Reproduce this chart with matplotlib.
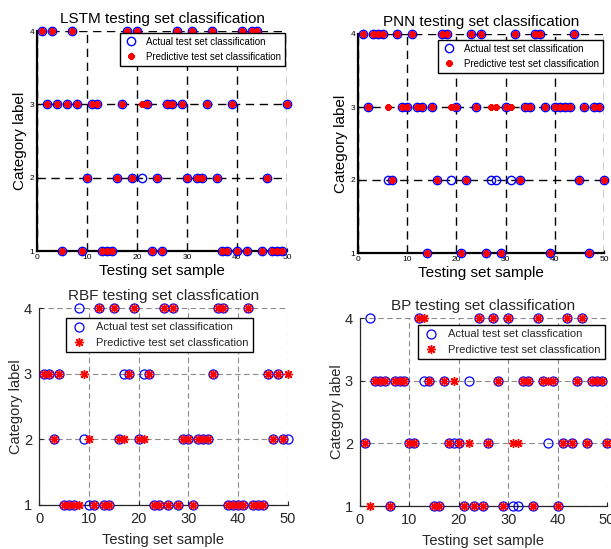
import matplotlib as mpl
mpl.use('agg')
import matplotlib.pyplot as plt
import numpy as np

plt.rcParams['font.family'] = ['Liberation Sans', 'DejaVu Sans']

samples = list(range(1, 51))

# actual class of each test sample (1..50), read by level
lstm_actual = {4: [1, 3, 7, 18, 20, 28, 31, 35, 41, 43, 44],
               3: [2, 4, 6, 8, 11, 12, 17, 22, 26, 27, 29, 34, 39, 50],
               2: [10, 16, 19, 21, 24, 30, 32, 33, 36, 46],
               1: [5, 9, 13, 14, 15, 23, 25, 37, 38, 40, 42, 45, 47, 48, 49]}
lstm_wrong = {21: 3}

pnn_actual = {4: [1, 3, 4, 5, 8, 11, 17, 18, 23, 25, 32, 36, 37, 44],
              3: [2, 9, 10, 12, 13, 15, 20, 24, 30, 34, 35, 38, 40, 41, 42, 43, 46, 48, 49],
              2: [6, 7, 16, 19, 22, 27, 28, 31, 33, 45, 50],
              1: [14, 21, 26, 29, 39, 47]}
pnn_wrong = {6: 3, 19: 3, 27: 3, 28: 3, 31: 3}

rbf_actual = {4: [8, 12, 15, 19, 25, 27, 36, 37, 42],
              3: [1, 2, 4, 17, 18, 21, 22, 35, 46, 48],
              2: [3, 9, 16, 20, 29, 30, 32, 33, 34, 47, 49, 50],
              1: [5, 6, 7, 10, 11, 13, 14, 23, 24, 26, 28, 31, 38, 39, 40, 41, 43, 44, 45]}
rbf_wrong = {8: 1, 9: 3, 10: 2, 17: 2, 21: 2, 50: 3}

bp_actual = {4: [2, 12, 24, 27, 30, 36, 42, 45],
             3: [3, 4, 5, 7, 8, 9, 13, 14, 17, 22, 28, 33, 34, 37, 39, 44, 47, 48, 49],
             2: [1, 10, 11, 18, 19, 20, 26, 38, 41, 43, 46, 50],
             1: [6, 15, 16, 21, 23, 25, 29, 31, 32, 35, 40]}
bp_wrong = {2: 1, 13: 4, 19: 3, 22: 2, 31: 2, 32: 2, 38: 3}


def to_series(levels, wrong):
    actual = np.zeros(50)
    for lev, idx in levels.items():
        for i in idx:
            actual[i - 1] = lev
    pred = actual.copy()
    for i, lev in wrong.items():
        pred[i - 1] = lev
    return actual, pred


W, H = 611, 549
fig = plt.figure(figsize=(W / 100, H / 100), dpi=100)


def px_axes(l, t, r, b):
    return fig.add_axes([l / W, 1 - b / H, (r - l) / W, (b - t) / H])


panels = [
    # name, box, data, wrong, style, legend anchor, labels
    ('LSTM testing set classification', (37, 31, 287, 251), lstm_actual, lstm_wrong, 'old',
     (0.992, 0.991), ('Actual test set classification', 'Predictive test set classification')),
    ('PNN testing set classification', (358, 34, 604, 253), pnn_actual, pnn_wrong, 'old',
     (0.996, 0.973), ('Actual test set classification', 'Predictive test set classification')),
    ('RBF testing set classfication', (39, 308, 288, 505), rbf_actual, rbf_wrong, 'new',
     (0.859, 0.949), ('Actual test set classification', 'Predictive test set classfication')),
    ('BP testing set classification', (360, 318, 607, 506), bp_actual, bp_wrong, 'new',
     (0.992, 0.963), ('Actual test set classfication', 'Predictive test set classfication')),
]

for title, box, levels, wrong, style, anchor, labels in panels:
    ax = px_axes(*box)
    actual, pred = to_series(levels, wrong)
    if style == 'old':
        tcol = 'black'
        a, = ax.plot(samples, actual, 'o', mfc='none', mec='blue', ms=6, mew=1.0, clip_on=False, zorder=3)
        p, = ax.plot(samples, pred, marker=(8, 2, 0), ls='none', color='red', mec='red',
                     ms=4.5, mew=1.6, clip_on=False, zorder=4)
        ax.grid(True, color='black', linestyle=(0, (6, 4)), linewidth=1.0)
        tick_fs, lab_fs, tit_fs, leg_fs = 6, 11, 11, 7
        for s in ['left', 'bottom']:
            ax.spines[s].set_linewidth(1.6)
        ax.tick_params(direction='in', length=2, labelsize=tick_fs, pad=2)
        lpad_x, lpad_y = 2, 2
    else:
        tcol = '#262626'
        a, = ax.plot(samples, actual, 'o', mfc='none', mec='blue', ms=6.5, mew=0.9, clip_on=False, zorder=3)
        p, = ax.plot(samples, pred, marker=(8, 2, 0), ls='none', color='red', mec='red',
                     ms=6.5, mew=1.0, clip_on=False, zorder=4)
        ax.grid(True, color='#8c8c8c', linestyle=(0, (5, 3)), linewidth=0.8)
        tick_fs, lab_fs, tit_fs, leg_fs = 10.5, 10.5, 11, 8
        for s in ['left', 'bottom']:
            ax.spines[s].set_linewidth(0.9)
            ax.spines[s].set_color(tcol)
        ax.tick_params(direction='in', length=3, labelsize=tick_fs, colors=tcol, pad=5)
        lpad_x, lpad_y = 5, 1
    ax.spines['top'].set_visible(False)
    ax.spines['right'].set_visible(False)
    ax.set_axisbelow(True)
    ax.set_xlim(0, 50)
    ax.set_ylim(1, 4)
    ax.set_xticks([0, 10, 20, 30, 40, 50])
    ax.set_yticks([1, 2, 3, 4])
    ax.set_title(title, fontsize=tit_fs, color=tcol, pad=6)
    ax.set_xlabel('Testing set sample', fontsize=lab_fs, color=tcol, labelpad=lpad_x)
    ax.set_ylabel('Category label', fontsize=lab_fs, color=tcol, labelpad=lpad_y)
    leg = ax.legend([a, p], labels, loc='upper right', bbox_to_anchor=anchor, fontsize=leg_fs,
                    numpoints=1, handlelength=1.5, borderpad=0.4, labelspacing=0.5,
                    fancybox=False, framealpha=1, edgecolor='black', borderaxespad=0)
    leg.get_frame().set_linewidth(1.0)
    for t in leg.get_texts():
        t.set_color(tcol)

fig.savefig('out.png', dpi=100)
